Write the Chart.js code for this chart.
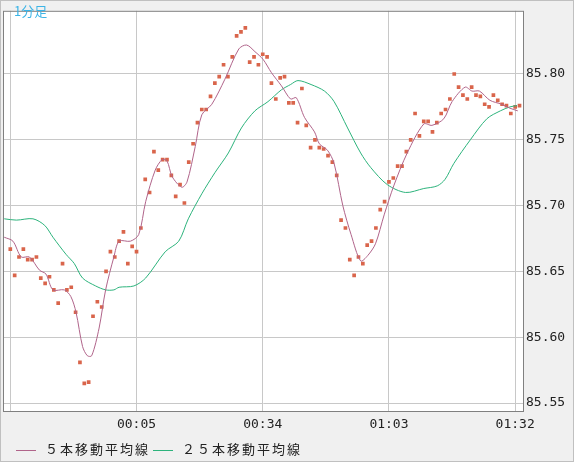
<!DOCTYPE html>
<html lang="ja">
<head>
<meta charset="UTF-8">
<title>1分足</title>
<script src="https://cdn.jsdelivr.net/npm/chart.js"></script>
<style>
  body { margin: 0; background: #f0f0f0; }
  #wrap { position: relative; width: 574px; height: 462px; }
  #title { position: absolute; left: 14px; top: 1px; color: #3cb4e6; font: 13px "Noto Sans CJK JP", sans-serif; }
  .legend { position: absolute; top: 439px; font: 13px "Noto Sans CJK JP", sans-serif; color: #222; letter-spacing: 2px; }
  .legend span { display: inline-block; width: 20px; height: 0; border-top: 1px solid; vertical-align: middle; margin-right: 9px; }
</style>
</head>
<body>
<div id="wrap">
  <canvas id="c" width="574" height="462"></canvas>
  <div id="title">1分足</div>
  <div class="legend" style="left:16px"><span style="border-color:#b0648a"></span>５本移動平均線</div>
  <div class="legend" style="left:153px"><span style="border-color:#2db37c"></span>２５本移動平均線</div>
</div>
<script>
// 1-minute prices, one per minute starting at index 0
const prices = [
  85.667, 85.647, 85.661, 85.667, 85.659, 85.659, 85.661, 85.645, 85.641, 85.646,
  85.636, 85.626, 85.656, 85.636, 85.638, 85.619, 85.581, 85.565, 85.566, 85.616,
  85.627, 85.623, 85.650, 85.665, 85.661, 85.673, 85.680, 85.656, 85.669, 85.665,
  85.683, 85.720, 85.710, 85.741, 85.727, 85.735, 85.735, 85.723, 85.707, 85.716,
  85.702, 85.733, 85.747, 85.763, 85.773, 85.773, 85.783, 85.793, 85.798, 85.807,
  85.798, 85.813, 85.829, 85.832, 85.835, 85.809, 85.813, 85.807, 85.815, 85.813,
  85.793, 85.781, 85.797, 85.798, 85.778, 85.778, 85.763, 85.789, 85.761, 85.744,
  85.750, 85.744, 85.743, 85.738, 85.733, 85.723, 85.689, 85.683, 85.659, 85.647,
  85.661, 85.656, 85.670, 85.673, 85.683, 85.697, 85.703, 85.718, 85.721, 85.730,
  85.730, 85.741, 85.750, 85.770, 85.753, 85.764, 85.764, 85.756, 85.763, 85.770,
  85.773, 85.781, 85.800, 85.790, 85.784, 85.781, 85.790, 85.784, 85.783, 85.777,
  85.775, 85.784, 85.780, 85.777, 85.776, 85.770, 85.775, 85.776
];

// 5-bar moving average
const ma5X = [-1.4, 0.6, 2.5, 4.4, 6.7, 8.2, 9.8, 12.4, 13.9, 15.1, 16.6, 17.7, 18.7, 20.4, 21.9,
  23.8, 25, 27.6, 29.5, 31.1, 33.3, 34.9, 36, 37.2, 39.4, 40.6, 42.5, 44, 46.3, 49.3, 52.5,
  54.3, 56.2, 58.1, 60, 62.3, 64.4, 65.7, 67.6, 69.9, 71, 72.9, 74.4, 76.4, 78.3, 80.5, 82.1,
  83.9, 85.9, 88.1, 91.2, 95, 96.9, 99.6, 101.5, 104.5, 106.1, 107.8, 110.2, 112.9, 114.8, 116.6];
const ma5Y = [85.676, 85.673, 85.661, 85.661, 85.651, 85.648, 85.636, 85.636, 85.631, 85.619,
  85.593, 85.586, 85.586, 85.607, 85.636, 85.661, 85.673, 85.673, 85.678, 85.703, 85.727,
  85.735, 85.734, 85.722, 85.714, 85.718, 85.745, 85.769, 85.777, 85.796, 85.819, 85.822,
  85.817, 85.811, 85.801, 85.791, 85.781, 85.782, 85.767, 85.756, 85.747, 85.742, 85.732,
  85.700, 85.678, 85.658, 85.662, 85.671, 85.693, 85.715, 85.740, 85.762, 85.761, 85.766,
  85.779, 85.790, 85.787, 85.787, 85.780, 85.777, 85.774, 85.772];

// 25-bar moving average
const ma25X = [-1.4, 1.4, 5.2, 7.9, 9.8, 12.8, 14.7, 16.6, 19.6, 21.9, 23.8, 25, 28.4, 31.1,
  35.6, 38.7, 40.9, 44, 47, 50.1, 53.1, 56.2, 59.2, 62.3, 64.4, 66.1, 69.1, 72.2, 74.4, 77.5,
  80.5, 82.8, 86.6, 90.8, 95, 98.1, 99.9, 101.9, 105.7, 109.5, 112.6, 114.8, 116.4];
const ma25Y = [85.690, 85.689, 85.690, 85.685, 85.676, 85.663, 85.656, 85.645, 85.639, 85.636,
  85.636, 85.638, 85.639, 85.645, 85.665, 85.673, 85.690, 85.709, 85.725, 85.740, 85.759,
  85.772, 85.779, 85.788, 85.792, 85.795, 85.792, 85.787, 85.779, 85.759, 85.740, 85.729,
  85.716, 85.710, 85.713, 85.715, 85.720, 85.732, 85.750, 85.766, 85.772, 85.775, 85.776];

const xTickPos = [0, 29, 58, 87, 116];
const xTickLabels = ['', '00:05', '00:34', '01:03', '01:32'];
const yTicks = [85.55, 85.60, 85.65, 85.70, 85.75, 85.80];

const pts = (xs, ys) => xs.map((x, i) => ({ x: x, y: ys[i] }));

const plotFrame = {
  id: 'plotFrame',
  beforeDraw(chart) {
    const a = chart.chartArea, ctx = chart.ctx;
    ctx.save();
    ctx.fillStyle = '#ffffff';
    ctx.fillRect(a.left, a.top, a.right - a.left, a.bottom - a.top);
    ctx.restore();
  },
  afterDraw(chart) {
    const a = chart.chartArea, ctx = chart.ctx;
    ctx.save();
    ctx.strokeStyle = '#808080';
    ctx.lineWidth = 1;
    ctx.strokeRect(a.left - 0.5, a.top + 0.5, a.right - a.left + 1, a.bottom - a.top);
    ctx.strokeStyle = '#c0c0c0';
    ctx.strokeRect(0.5, 0.5, chart.width - 1, chart.height - 1);
    ctx.restore();
  }
};

new Chart(document.getElementById('c'), {
  type: 'scatter',
  data: {
    datasets: [
      {
        label: '５本移動平均線',
        type: 'line',
        data: pts(ma5X, ma5Y),
        borderColor: '#b0648a',
        borderWidth: 1,
        pointRadius: 0,
        tension: 0.3
      },
      {
        label: '２５本移動平均線',
        type: 'line',
        data: pts(ma25X, ma25Y),
        borderColor: '#2db37c',
        borderWidth: 1,
        pointRadius: 0,
        tension: 0.3
      },
      {
        label: 'price',
        data: prices.map((p, i) => ({ x: i, y: p })),
        backgroundColor: '#d9654b',
        borderWidth: 0,
        pointStyle: 'rect',
        pointRadius: 2.6
      }
    ]
  },
  options: {
    responsive: false,
    animation: false,
    devicePixelRatio: 1,
    layout: { padding: { left: 1, top: 0, right: 0, bottom: 0 } },
    plugins: { legend: { display: false }, tooltip: { enabled: false } },
    scales: {
      x: {
        type: 'linear',
        min: -1.45,
        max: 117.8,
        afterBuildTicks: (s) => { s.ticks = xTickPos.map(v => ({ value: v })); },
        afterFit: (s) => { s.height = 51; },
        grid: { color: '#c8c8c8', drawTicks: false },
        border: { display: false },
        ticks: {
          padding: 6,
          maxRotation: 0,
          autoSkip: false,
          color: '#222',
          font: { family: 'DejaVu Sans Mono', size: 13 },
          callback: (v) => xTickLabels[xTickPos.indexOf(v)]
        }
      },
      y: {
        position: 'right',
        min: 85.544,
        max: 85.848,
        afterBuildTicks: (s) => { s.ticks = yTicks.map(v => ({ value: v })); },
        afterFit: (s) => { s.width = 51; },
        grid: { color: '#c8c8c8', drawTicks: false },
        border: { display: false },
        ticks: {
          padding: 3,
          color: '#222',
          font: { family: 'DejaVu Sans Mono', size: 13 },
          callback: (v) => v.toFixed(2)
        }
      }
    }
  },
  plugins: [plotFrame]
});
</script>
</body>
</html>
